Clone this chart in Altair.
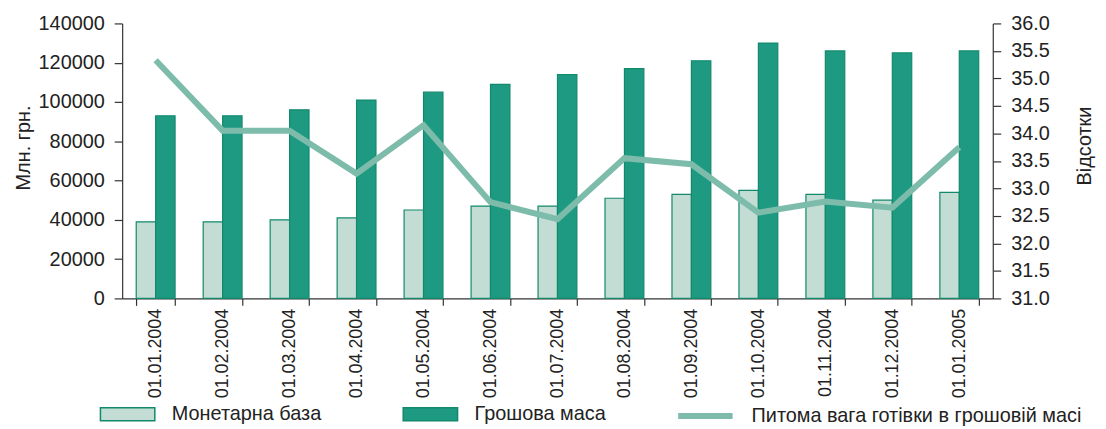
import altair as alt
import pandas as pd

categories = ["01.01.2004", "01.02.2004", "01.03.2004", "01.04.2004", "01.05.2004",
              "01.06.2004", "01.07.2004", "01.08.2004", "01.09.2004", "01.10.2004",
              "01.11.2004", "01.12.2004", "01.01.2005"]
base_money = [39000, 39000, 40000, 41000, 45000, 47000, 47000, 51000, 53000, 55000, 53000, 50000, 54000]
money_supply = [93000, 93000, 96000, 101000, 105000, 109000, 114000, 117000, 121000, 130000, 126000, 125000, 126000]
cash_share = [35.33, 34.05, 34.05, 33.27, 34.15, 32.75, 32.44, 33.55, 33.44, 32.56, 32.76, 32.65, 33.75]

s_base = "Монетарна база"
s_money = "Грошова маса"
s_share = "Питома вага готівки в грошовій масі"

bars_df = pd.DataFrame(
    [{"date": c, "series": s_base, "value": v} for c, v in zip(categories, base_money)]
    + [{"date": c, "series": s_money, "value": v} for c, v in zip(categories, money_supply)]
)
line_df = pd.DataFrame({"date": categories, "share": cash_share, "series": [s_share] * len(categories)})

FONT = "Liberation Sans"
x_scale = alt.Scale(domain=categories, paddingInner=0.42, paddingOuter=0.21)

bars = alt.Chart(bars_df).mark_bar(stroke="#12896b", strokeWidth=1.2).encode(
    x=alt.X("date:N", scale=x_scale, sort=categories,
            axis=alt.Axis(title=None, labelAngle=270, labelFontSize=18, tickBand="extent",
                          tickSize=7, labelPadding=3, labelColor="#222")),
    xOffset=alt.XOffset("series:N", sort=[s_base, s_money], scale=alt.Scale(domain=[s_base, s_money])),
    y=alt.Y("value:Q", scale=alt.Scale(domain=[0, 140000], nice=False),
            axis=alt.Axis(title="Млн. грн.", values=list(range(0, 140001, 20000)), format="d",
                          titleFontSize=20, titleX=-93, titleY=125, titleBaseline="alphabetic",
                          titleAlign="center", labelFontSize=20, tickSize=8, labelPadding=10,
                          grid=False, labelColor="#222", titleColor="#222", titleFontWeight="normal")),
    fill=alt.Fill("series:N", scale=alt.Scale(domain=[s_base, s_money], range=["#c3ddd5", "#1f9a82"]),
                  legend=alt.Legend(title=None, orient="none", legendX=-23, legendY=365, direction="horizontal",
                                    symbolType="M-1,-0.24L1,-0.24L1,0.24L-1,0.24Z", symbolSize=3000,
                                    symbolStrokeColor="#12896b", symbolStrokeWidth=1.5,
                                    labelFontSize=20, labelColor="#222", labelOffset=16,
                                    columnPadding=79, labelLimit=400)),
)

line = alt.Chart(line_df).mark_line(strokeWidth=6).encode(
    x=alt.X("date:N", scale=x_scale, sort=categories),
    y=alt.Y("share:Q", scale=alt.Scale(domain=[31, 36], nice=False),
            axis=alt.Axis(title="Відсотки", orient="right", values=[31 + 0.5 * i for i in range(11)],
                          format=".1f", titleFontSize=20, titleAngle=270, titleX=98, titleY=123,
                          titleBaseline="alphabetic", titleAlign="center",
                          labelFontSize=20, tickSize=8, labelPadding=10, grid=False, labelColor="#222",
                          titleColor="#222", titleFontWeight="normal")),
    stroke=alt.Stroke("series:N", scale=alt.Scale(domain=[s_share], range=["#7dbcaa"]),
                      legend=alt.Legend(title=None, orient="none", legendX=557, legendY=365,
                                        symbolType="M-1,0L1,0", symbolSize=3000, symbolStrokeWidth=6,
                                        labelFontSize=20, labelColor="#222", labelOffset=16, labelLimit=500)),
)

chart = alt.layer(bars, line).resolve_scale(y="independent").properties(
    width=877, height=277,
    autosize=alt.AutoSizeParams(type="none"),
    padding={"left": 115, "top": 14, "right": 106, "bottom": 130},
).configure_view(stroke=None).configure_axis(
    labelFont=FONT, titleFont=FONT, domainColor="#333", tickColor="#333", domainWidth=1.2, tickWidth=1.2
).configure_legend(labelFont=FONT)

chart.save("out.html", embed_options={"renderer": "svg", "actions": False})
